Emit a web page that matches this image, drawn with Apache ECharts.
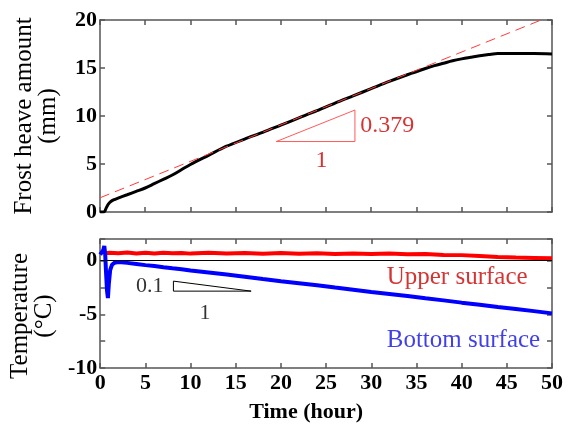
<!DOCTYPE html>
<html>
<head>
<meta charset="utf-8">
<script src="https://cdn.jsdelivr.net/npm/echarts@6/dist/echarts.min.js"></script>
<style>
  html, body { margin: 0; padding: 0; background: #fff; }
  #main { width: 569px; height: 426px; }
</style>
</head>
<body>
<div id="main"></div>
<script>
// frost heave (top panel)
var heaveT = [0, 0.4, 0.55, 0.7, 0.9, 1.2, 1.6, 2, 3, 4, 5, 6, 7, 8, 9, 10, 12, 14, 16, 18, 20, 22, 24, 26, 28, 30, 32, 34, 36, 37, 38, 39, 40, 41, 42, 43, 44, 46, 48, 50];
var heaveV = [0, 0, 0.1, 0.45, 0.8, 1.1, 1.3, 1.45, 1.8, 2.15, 2.5, 2.95, 3.4, 3.85, 4.4, 4.95, 5.9, 6.85, 7.6, 8.3, 9.05, 9.8, 10.55, 11.35, 12.1, 12.85, 13.6, 14.3, 14.95, 15.25, 15.5, 15.75, 15.95, 16.12, 16.28, 16.4, 16.5, 16.5, 16.5, 16.45];
// fitted line, slope 0.379
var fitT = [0, 48.8];
var fitV = [1.48, 20];
var triTopT = [19.5, 28.2, 28.2, 19.5];
var triTopV = [7.34, 10.62, 7.34, 7.34];

// temperatures (bottom panel)
var upperT = [0.6, 1, 2, 3, 4, 5, 6, 7, 8, 9, 10, 12, 14, 16, 18, 20, 22, 24, 26, 28, 30, 32, 34, 36, 38, 40, 42, 44, 46, 48, 50];
var upperV = [0.66, 0.72, 0.68, 0.74, 0.66, 0.71, 0.65, 0.73, 0.67, 0.7, 0.64, 0.71, 0.66, 0.7, 0.63, 0.69, 0.62, 0.67, 0.61, 0.66, 0.6, 0.64, 0.58, 0.6, 0.52, 0.5, 0.42, 0.33, 0.27, 0.24, 0.2];
var bottomT = [0, 0.2, 0.35, 0.45, 0.55, 0.65, 0.75, 0.85, 0.95, 1.1, 1.3, 1.6, 2, 3, 4, 5, 6, 7, 8, 9, 10, 12, 14, 16, 18, 20, 22, 24, 26, 28, 30, 32, 34, 36, 38, 40, 42, 44, 46, 48, 50];
var bottomV = [0.55, 0.6, 1.0, 1.35, 0.6, -1.2, -2.8, -3.5, -2.2, -0.9, -0.4, -0.2, -0.15, -0.22, -0.32, -0.43, -0.52, -0.63, -0.73, -0.82, -0.93, -1.12, -1.31, -1.51, -1.72, -1.92, -2.11, -2.31, -2.52, -2.72, -2.93, -3.12, -3.31, -3.52, -3.71, -3.92, -4.11, -4.32, -4.51, -4.71, -4.92];
var triBotT = [8.1, 16.7, 8.1, 8.1];
var triBotV = [-1.92, -2.85, -2.85, -1.92];

function pairs(xs, ys) {
  return xs.map(function (x, i) { return [x, ys[i]]; });
}

var serif = '"Liberation Serif", "Times New Roman", Times, "DejaVu Serif", serif';
var axisCol = '#555';

function xAx(grid, pos, labels) {
  return {
    gridIndex: grid, type: 'value', position: pos, min: 0, max: 50, interval: 5,
    axisLine: { show: true, onZero: false, lineStyle: { color: axisCol, width: 1.5 } },
    axisTick: { show: true, inside: true, length: 5, lineStyle: { color: axisCol, width: 1.5 } },
    axisLabel: { show: labels, margin: 4, color: '#000', fontFamily: serif, fontWeight: 'bold', fontSize: 22 },
    splitLine: { show: false }
  };
}
function yAx(grid, pos, labels, min, max, step) {
  return {
    gridIndex: grid, type: 'value', position: pos, min: min, max: max, interval: step,
    axisLine: { show: true, onZero: false, lineStyle: { color: axisCol, width: 1.5 } },
    axisTick: { show: true, inside: true, length: 5, lineStyle: { color: axisCol, width: 1.5 } },
    axisLabel: {
      show: labels, margin: 3, color: '#000', fontFamily: serif, fontWeight: 'bold', fontSize: 22,
      formatter: function (v) { return v % 5 === 0 ? String(v) : ''; }
    },
    splitLine: { show: false }
  };
}

var xAxes = [xAx(0, 'bottom', false), xAx(0, 'top', false), xAx(1, 'bottom', true), xAx(1, 'top', false)];
xAxes[2].name = 'Time (hour)';
xAxes[2].nameLocation = 'middle';
xAxes[2].nameGap = 33;
xAxes[2].nameTextStyle = { color: '#000', fontFamily: serif, fontWeight: 'bold', fontSize: 22, padding: [0, 40, 0, 0] };

var yAxes = [yAx(0, 'left', true, 0, 20, 5), yAx(0, 'right', false, 0, 20, 5), yAx(1, 'left', true, -10, 2, 2.5), yAx(1, 'right', false, -10, 2, 2.5)];
yAxes[0].name = 'Frost heave amount\n(mm)';
yAxes[0].nameLocation = 'middle';
yAxes[0].nameGap = 40;
yAxes[0].nameTextStyle = { color: '#000', fontFamily: serif, fontSize: 25, lineHeight: 24 };
yAxes[2].name = 'Temperature\n(°C)';
yAxes[2].nameLocation = 'middle';
yAxes[2].nameGap = 39;
yAxes[2].nameTextStyle = { color: '#000', fontFamily: serif, fontSize: 25, lineHeight: 24, padding: [0, 25, 0, 0] };

function textMark(grid, x, y, txt, color, size, align) {
  return {
    type: 'scatter', xAxisIndex: grid * 2, yAxisIndex: grid * 2, symbolSize: 0, silent: true, z: 5,
    data: [[x, y]],
    label: {
      show: true, position: 'inside', formatter: txt, color: color, fontFamily: serif,
      fontSize: size, align: align, verticalAlign: 'middle'
    }
  };
}

var myChart = echarts.init(document.getElementById('main'));

var option = {
  backgroundColor: '#fff',
  animation: false,
  grid: [
    { left: 100, right: 17, top: 20, height: 192 },
    { left: 100, right: 17, top: 239, height: 129 }
  ],
  xAxis: xAxes,
  yAxis: yAxes,
  series: [
    {
      type: 'line', xAxisIndex: 0, yAxisIndex: 0, showSymbol: false, z: 3, smooth: 0.3,
      data: pairs(heaveT, heaveV),
      lineStyle: { color: '#000', width: 3 }
    },
    {
      type: 'line', xAxisIndex: 0, yAxisIndex: 0, showSymbol: false, z: 4,
      data: pairs(fitT, fitV),
      lineStyle: { color: '#ff3b3b', width: 1, type: [10, 6] }
    },
    {
      type: 'line', xAxisIndex: 0, yAxisIndex: 0, showSymbol: false,
      data: pairs(triTopT, triTopV),
      lineStyle: { color: '#ff5a5a', width: 1 }
    },
    textMark(0, 28.8, 8.97, '0.379', '#cc0000', 24, 'left'),
    textMark(0, 24.5, 5.3, '1', '#cc0000', 24, 'center'),
    {
      type: 'line', xAxisIndex: 2, yAxisIndex: 2, showSymbol: false, z: 3,
      data: pairs(upperT, upperV),
      lineStyle: { color: '#ff0000', width: 4 }
    },
    {
      type: 'line', xAxisIndex: 2, yAxisIndex: 2, showSymbol: false, z: 3,
      data: pairs(bottomT, bottomV),
      lineStyle: { color: '#0000ff', width: 4 },
      markLine: {
        silent: true, symbol: 'none', label: { show: false },
        lineStyle: { color: '#000', width: 1, type: 'solid' },
        data: [{ yAxis: 0 }]
      }
    },
    {
      type: 'line', xAxisIndex: 2, yAxisIndex: 2, showSymbol: false,
      data: pairs(triBotT, triBotV),
      lineStyle: { color: '#000', width: 1 }
    },
    textMark(1, 7.0, -2.38, '0.1', '#000', 22, 'right'),
    textMark(1, 11.6, -4.9, '1', '#000', 22, 'center'),
    textMark(1, 39.5, -1.55, 'Upper surface', '#cc0000', 25, 'center'),
    textMark(1, 40.2, -7.43, 'Bottom surface', '#1010e0', 25, 'center')
  ]
};

myChart.setOption(option);
</script>
</body>
</html>
